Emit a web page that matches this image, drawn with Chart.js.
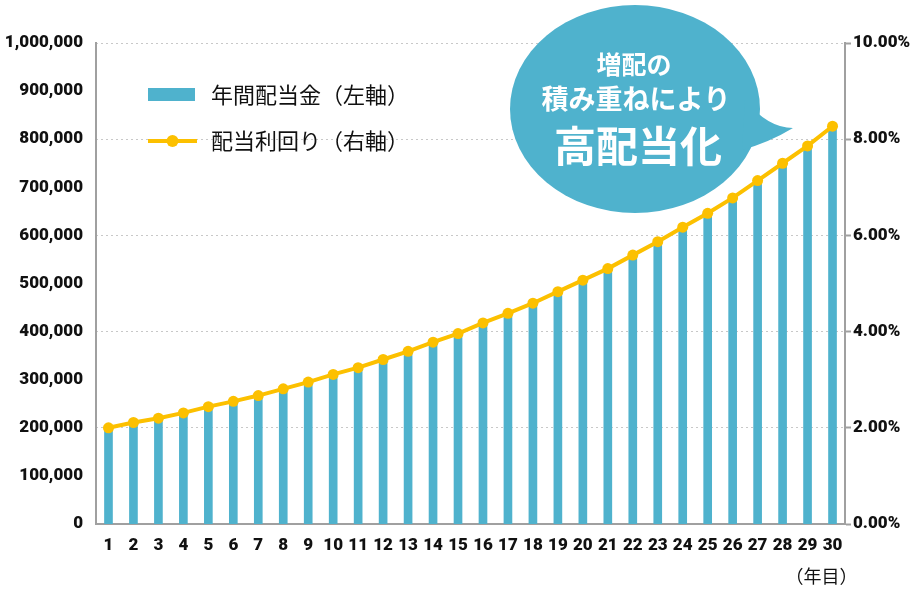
<!DOCTYPE html>
<html lang="ja">
<head>
<meta charset="utf-8">
<title>年間配当金と配当利回り</title>
<script src="https://cdn.jsdelivr.net/npm/chart.js@4.4.1/dist/chart.umd.min.js"></script>
<style>
  html, body { margin: 0; padding: 0; background: #ffffff; }
  #wrap { width: 920px; height: 600px; }
</style>
</head>
<body>
<div id="wrap"><canvas id="chart" width="920" height="600"></canvas></div>
<script>
// 年数（横軸）
const years = ["1","2","3","4","5","6","7","8","9","10","11","12","13","14","15",
  "16","17","18","19","20","21","22","23","24","25","26","27","28","29","30"];

// 年間配当金（左軸, 円）
const dividends = [197000, 208000, 217000, 228000, 241000, 252000, 264000, 278000, 292000, 308000,
  322000, 339000, 356000, 375000, 393000, 415000, 435000, 456000, 480000, 504000,
  528000, 556000, 584000, 614000, 643000, 675000, 711000, 747000, 783000, 822000];

// 配当利回り（右軸, %）
const yields = [2.00, 2.11, 2.20, 2.31, 2.44, 2.55, 2.67, 2.81, 2.95, 3.11,
  3.25, 3.42, 3.59, 3.78, 3.96, 4.18, 4.38, 4.59, 4.83, 5.07,
  5.31, 5.59, 5.87, 6.17, 6.46, 6.78, 7.14, 7.50, 7.86, 8.27];

const leftTicks = [0, 100000, 200000, 300000, 400000, 500000, 600000, 700000, 800000, 900000, 1000000];
const rightTicks = [0, 2, 4, 6, 8, 10];

const barLabel = "年間配当金（左軸）";
const lineLabel = "配当利回り（右軸）";
const bubbleLines = ["増配の", "積み重ねにより", "高配当化"];
const xUnit = "（年目）";

const blue = "#4fb2cd";
const yellow = "#fcc000";
const axisGrey = "#a0a0a0";
const gridGrey = "#c8c8c8";
const jpFont = "'Noto Sans CJK JP', 'Noto Sans', sans-serif";
const numFont = "Roboto, 'DejaVu Sans', sans-serif";

// 凡例・吹き出し・単位を描く
const overlay = {
  id: "overlay",
  afterDraw(chart) {
    const c = chart.ctx;
    const xs = chart.scales.x;
    c.save();

    // legend
    c.fillStyle = blue;
    c.fillRect(148, 88, 47, 13);
    c.strokeStyle = yellow;
    c.lineWidth = 4;
    c.beginPath();
    c.moveTo(148, 141);
    c.lineTo(197, 141);
    c.stroke();
    c.fillStyle = yellow;
    c.beginPath();
    c.arc(172.5, 141, 6, 0, Math.PI * 2);
    c.fill();

    c.fillStyle = "#111111";
    c.font = "22px " + jpFont;
    c.textAlign = "left";
    c.textBaseline = "middle";
    c.fillText(barLabel, 211, 95);
    c.fillText(lineLabel, 211, 141);

    // speech bubble
    c.fillStyle = blue;
    c.beginPath();
    c.ellipse(635, 109, 125, 104, 0, 0, Math.PI * 2);
    c.fill();
    c.beginPath();
    c.moveTo(745, 100);
    c.quadraticCurveTo(768, 128, 793, 128);
    c.quadraticCurveTo(770, 142, 742, 150);
    c.closePath();
    c.fill();

    c.fillStyle = "#ffffff";
    c.textAlign = "center";
    c.font = "bold 25px " + jpFont;
    c.fillText(bubbleLines[0], 634, 64);
    c.font = "bold 27px " + jpFont;
    c.fillText(bubbleLines[1], 636, 99);
    c.font = "bold 42px " + jpFont;
    c.fillText(bubbleLines[2], 638, 146);

    // unit under x axis
    c.fillStyle = "#111111";
    c.font = "18px " + jpFont;
    c.fillText(xUnit, xs.getPixelForValue(29) - 11, 576);

    c.restore();
  },
};

const tickFont = { family: numFont, size: 17, weight: 900 };

new Chart(document.getElementById("chart"), {
  data: {
    labels: years,
    datasets: [
      {
        type: "line",
        label: lineLabel,
        data: yields,
        yAxisID: "y1",
        borderColor: yellow,
        backgroundColor: yellow,
        borderWidth: 4,
        pointRadius: 5.5,
        pointBorderWidth: 0,
        pointBackgroundColor: yellow,
        tension: 0,
        order: 0,
      },
      {
        type: "bar",
        label: barLabel,
        data: dividends,
        yAxisID: "y",
        backgroundColor: blue,
        barThickness: 8,
        order: 1,
      },
    ],
  },
  options: {
    responsive: false,
    animation: false,
    layout: { padding: { top: 43, left: 0, right: 0, bottom: 0 } },
    plugins: {
      legend: { display: false },
      tooltip: { enabled: false },
    },
    scales: {
      x: {
        type: "category",
        offset: true,
        grid: { display: false, drawTicks: false },
        border: { display: true, color: axisGrey, width: 2 },
        ticks: {
          color: "#111111",
          font: tickFont,
          padding: 12,
          maxRotation: 0,
          autoSkip: false,
        },
        afterFit: (scale) => { scale.height = 76; },
      },
      y: {
        position: "left",
        min: 0,
        max: 1000000,
        afterBuildTicks: (scale) => { scale.ticks = leftTicks.map((v) => ({ value: v })); },
        grid: { display: false, drawTicks: false },
        border: { display: true, color: axisGrey, width: 2 },
        ticks: {
          color: "#111111",
          font: tickFont,
          padding: 13,
          callback: (v) => v.toLocaleString("en-US"),
        },
        afterFit: (scale) => { scale.width = 96; },
      },
      y1: {
        position: "right",
        min: 0,
        max: 10,
        afterBuildTicks: (scale) => { scale.ticks = rightTicks.map((v) => ({ value: v })); },
        grid: {
          drawOnChartArea: true,
          color: gridGrey,
          lineWidth: 1,
          drawTicks: true,
          tickLength: 6,
          tickColor: axisGrey,
          tickWidth: 2,
          tickBorderDash: [],
        },
        border: { display: true, color: axisGrey, width: 2, dash: [2, 3] },
        ticks: {
          color: "#111111",
          font: tickFont,
          padding: 2,
          callback: (v) => v.toFixed(2) + "%",
        },
        afterFit: (scale) => { scale.width = 75; },
      },
    },
  },
  plugins: [overlay],
});
</script>
</body>
</html>
